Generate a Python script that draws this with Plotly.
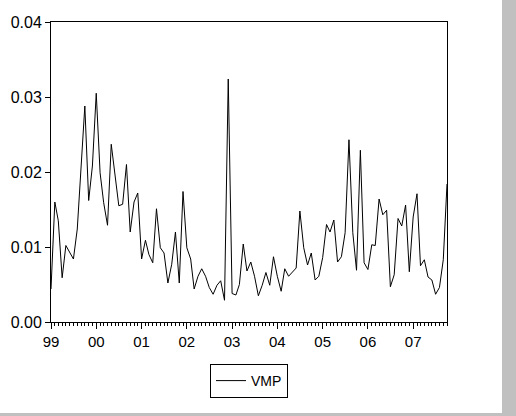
import plotly.graph_objects as go
import pandas as pd

series_name = "VMP"
start_month = "1999-01-01"
vmp = [
    # 1999
    0.0044, 0.0160, 0.0135, 0.0059, 0.0102, 0.0092, 0.0084, 0.0124, 0.0204, 0.0288, 0.0162, 0.0208,
    # 2000
    0.0305, 0.0199, 0.0159, 0.0129, 0.0237, 0.0195, 0.0155, 0.0157, 0.0210, 0.0120, 0.0160, 0.0172,
    # 2001
    0.0084, 0.0109, 0.0090, 0.0079, 0.0151, 0.0099, 0.0092, 0.0052, 0.0077, 0.0120, 0.0052, 0.0174,
    # 2002
    0.0099, 0.0084, 0.0044, 0.0061, 0.0071, 0.0061, 0.0046, 0.0037, 0.0049, 0.0055, 0.0029, 0.0324,
    # 2003
    0.0038, 0.0036, 0.0050, 0.0104, 0.0068, 0.0080, 0.0061, 0.0035, 0.0049, 0.0066, 0.0049, 0.0087,
    # 2004
    0.0061, 0.0041, 0.0071, 0.0061, 0.0067, 0.0072, 0.0148, 0.0099, 0.0076, 0.0092, 0.0056, 0.0061,
    # 2005
    0.0086, 0.0130, 0.0120, 0.0136, 0.0080, 0.0087, 0.0119, 0.0243, 0.0119, 0.0069, 0.0229, 0.0079,
    # 2006
    0.0070, 0.0103, 0.0102, 0.0164, 0.0143, 0.0149, 0.0047, 0.0063, 0.0138, 0.0128, 0.0156, 0.0067,
    # 2007
    0.0140, 0.0171, 0.0075, 0.0083, 0.0060, 0.0056, 0.0037, 0.0046, 0.0083, 0.0184,
]
dates = pd.date_range(start_month, periods=len(vmp), freq="MS")
y_ticks = [0.00, 0.01, 0.02, 0.03, 0.04]

fig = go.Figure()
fig.add_trace(go.Scatter(
    x=dates, y=vmp, mode="lines", name=series_name,
    line=dict(color="black", width=1),
))

L, R, T, B = 51, 69, 22, 94
W, H = 516, 416
pw, ph = W - L - R, H - T - B

def px_x(p):
    return (p - L) / pw

def px_y(p):
    return (H - B - p) / ph

fig.update_layout(
    width=W, height=H,
    margin=dict(l=L, r=R, t=T, b=B, pad=0, autoexpand=False),
    paper_bgcolor="white", plot_bgcolor="white",
    font=dict(family="Liberation Sans, Arial, sans-serif", size=15, color="black"),
    showlegend=True,
    legend=dict(
        orientation="h", x=0.5, xanchor="center", y=px_y(364), yanchor="top",
        bordercolor="black", borderwidth=1, bgcolor="white",
        font=dict(size=14), itemwidth=30,
    ),
    shapes=[
        dict(type="rect", xref="paper", yref="paper",
             x0=px_x(502), x1=px_x(520), y0=px_y(420), y1=px_y(-5),
             fillcolor="#C0C0C0", line=dict(width=0), layer="above"),
        dict(type="rect", xref="paper", yref="paper",
             x0=px_x(-5), x1=px_x(520), y0=px_y(420), y1=px_y(413),
             fillcolor="#C0C0C0", line=dict(width=0), layer="above"),
    ],
)

fig.update_xaxes(
    range=[dates[0], dates[-1]],
    type="date", automargin=False,
    dtick="M12", tick0=start_month, tickformat="%y",
    ticks="outside", ticklen=6, tickwidth=1, tickcolor="black",
    showline=True, linecolor="black", linewidth=1, mirror=True,
    showgrid=False, zeroline=False,
    minor=dict(dtick="M1", tick0=start_month, ticks="outside", ticklen=3,
               tickwidth=1, tickcolor="black", showgrid=False),
    tickfont=dict(size=15),
)
fig.update_yaxes(
    range=[0, 0.04], automargin=False,
    tickvals=y_ticks, tickformat=".2f",
    ticks="outside", ticklen=5, tickwidth=1, tickcolor="black",
    showline=True, linecolor="black", linewidth=1, mirror=True,
    showgrid=False, zeroline=False,
    tickfont=dict(size=16),
)

fig.write_html(
    "out.html",
    config={"displayModeBar": False},
    post_script="document.body.style.margin='0';document.body.style.overflow='hidden';",
)
